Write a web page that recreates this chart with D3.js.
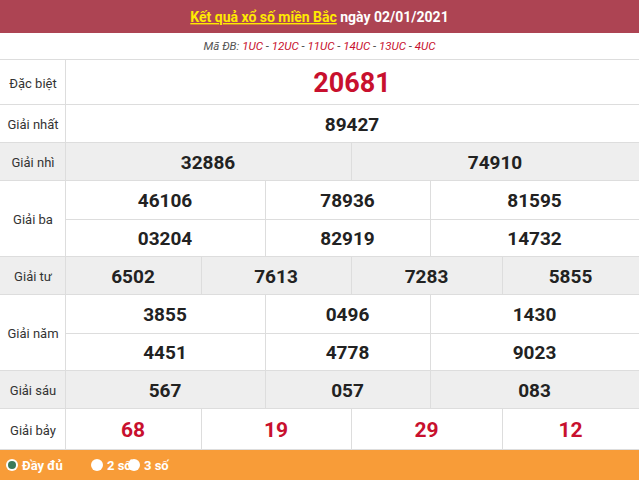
<!DOCTYPE html>
<html><head><meta charset="utf-8">
<script src="https://cdn.jsdelivr.net/npm/d3@7"></script>
<style>body{margin:0;background:#fff}svg{display:block;font-family:Roboto,Arial,sans-serif}</style>
</head><body><div id="chart-area"></div>
<script>
var width = 639, height = 484;
var labelW = 65;

var prizeNames = ["Đặc biệt","Giải nhất","Giải nhì","Giải ba","Giải tư","Giải năm","Giải sáu","Giải bảy"];
var prizeHeights = [45, 38, 38, 76, 38, 76, 38, 41];
var prizeGray = [false, false, true, false, true, false, true, false];
var dacBiet = [["20681"]];
var giaiNhat = [["89427"]];
var giaiNhi = [["32886","74910"]];
var giaiBa = [["46106","78936","81595"],["03204","82919","14732"]];
var giaiTu = [["6502","7613","7283","5855"]];
var giaiNam = [["3855","0496","1430"],["4451","4778","9023"]];
var giaiSau = [["567","057","083"]];
var giaiBay = [["68","19","29","12"]];
var maDB = ["1UC","12UC","11UC","14UC","13UC","4UC"];
var prizes = [dacBiet, giaiNhat, giaiNhi, giaiBa, giaiTu, giaiNam, giaiSau, giaiBay];

var colEdges = {1:[labelW,639], 2:[labelW,351,639], 3:[labelW,265,430,639], 4:[labelW,201,351,502,639]};

var svg = d3.select("#chart-area").append("svg").attr("width", width).attr("height", height);

// header
svg.append("rect").attr("width", width).attr("height", 33).attr("fill", "#ad4453");
var ht = svg.append("text").attr("x", width/2).attr("y", 22).attr("text-anchor","middle")
  .attr("font-size","14px").attr("font-weight","bold").attr("fill","#fff");
ht.append("tspan").attr("fill","#ffea00").attr("text-decoration","underline").text("Kết quả xổ số miền Bắc");
ht.append("tspan").text(" ngày 02/01/2021");

var st = svg.append("text").attr("x", width/2).attr("y", 50).attr("text-anchor","middle")
  .attr("font-size","11.5px").attr("font-style","italic").attr("fill","#555");
st.append("tspan").text("Mã ĐB: ");
maDB.forEach(function(m, i){
  st.append("tspan").attr("fill","#c8102e").text(m);
  if (i < maDB.length-1) st.append("tspan").text(" - ");
});
svg.append("line").attr("x1",0).attr("x2",width).attr("y1",59.5).attr("y2",59.5).attr("stroke","#ddd");

var y0 = 60;
prizes.forEach(function(rows, i){
  var h = prizeHeights[i];
  var g = svg.append("g").attr("transform","translate(0,"+y0+")");
  g.append("rect").attr("width", width).attr("height", h).attr("fill", prizeGray[i] ? "#eeeeee" : "#fff");
  g.append("text").attr("x", 33).attr("y", h/2+5).attr("text-anchor","middle")
    .attr("font-size","13px").attr("fill","#333").text(prizeNames[i]);
  g.append("line").attr("x1",labelW+0.5).attr("x2",labelW+0.5).attr("y1",0).attr("y2",h).attr("stroke","#ddd");
  var rh = h / rows.length;
  rows.forEach(function(row, r){
    var edges = colEdges[row.length];
    var x = d3.scaleBand().domain(d3.range(row.length)).range([labelW, width]);
    row.forEach(function(v, c){
      var cx = (edges[c] + edges[c+1]) / 2;
      if (c > 0) g.append("line").attr("x1",edges[c]+0.5).attr("x2",edges[c]+0.5)
        .attr("y1", r*rh).attr("y2",(r+1)*rh).attr("stroke","#ddd");
      var red = (i === 0 || i === 7);
      g.append("text").attr("x", cx).attr("y", r*rh + rh/2 + (i===0 ? 9 : 7))
        .attr("text-anchor","middle").attr("font-weight","bold")
        .attr("font-size", i===0 ? "27px" : (i===7 ? "21px" : "19px"))
        .attr("fill", red ? "#c8102e" : "#222").text(v);
    });
    if (r > 0) g.append("line").attr("x1",labelW).attr("x2",width).attr("y1",r*rh+0.5).attr("y2",r*rh+0.5).attr("stroke","#ddd");
  });
  g.append("line").attr("x1",0).attr("x2",width).attr("y1",h-0.5).attr("y2",h-0.5).attr("stroke","#ddd");
  y0 += h;
});

// footer
var options = ["Đầy đủ","2 số","3 số"];
var fg = svg.append("g").attr("transform","translate(0,"+y0+")");
fg.append("rect").attr("width", width).attr("height", 30).attr("fill","#f89c38");
var xs = [12, 97, 134];
options.forEach(function(o, i){
  fg.append("circle").attr("cx", xs[i]).attr("cy", 15).attr("r", 6).attr("fill","#fff");
  if (i === 0) fg.append("circle").attr("cx", xs[i]).attr("cy", 15).attr("r", 4).attr("fill","#3c7a5a");
  fg.append("text").attr("x", xs[i]+10).attr("y", 20).attr("font-size","13px").attr("font-weight","bold")
    .attr("fill","#fff").text(o);
});
svg.append("rect").attr("y", y0+30).attr("width", width).attr("height", height-y0-30).attr("fill","#fff");
</script></body></html>
